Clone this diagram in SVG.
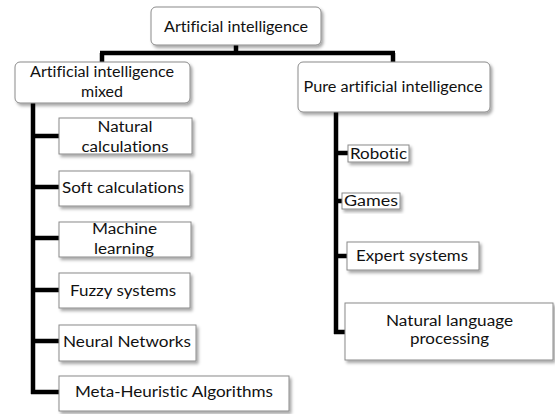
<svg xmlns="http://www.w3.org/2000/svg" width="555" height="414" viewBox="0 0 555 414">
<defs>
<filter id="sh" x="-10%" y="-20%" width="125%" height="150%">
<feDropShadow dx="2" dy="2.5" stdDeviation="1.5" flood-color="#000" flood-opacity="0.35"/>
</filter>
</defs>
<style>
.box{fill:#fff;stroke:#8a8a8a;stroke-width:1;filter:url(#sh)}
.t{font-family:Lato,"Open Sans","Liberation Sans",sans-serif;font-size:15.5px;fill:#111;text-anchor:middle;font-variant-ligatures:none;font-feature-settings:"liga" 0}
.c{fill:none;stroke:#000;stroke-width:4.5;stroke-linejoin:miter;stroke-linecap:butt}
</style>
<rect width="555" height="414" fill="#fff"/>
<g id="connectors">
<path class="c" d="M236,45 V53 M100,53 H395 M102,53 V62 M393,53 V62"/>
<path class="c" d="M33,103 V394"/>
<path class="c" d="M33,136 H59 M33,187 H59 M33,238 H59 M33,290 H59 M33,341 H59 M31,392 H59"/>
<path class="c" d="M336,112 V334"/>
<path class="c" d="M336,153 H348 M336,201 H342 M336,256 H347 M334,332 H345"/>
</g>
<g id="n-ai">
<rect class="box" x="151" y="7" width="170" height="38" rx="5"/>
<text class="t" x="236" y="32" textLength="144" lengthAdjust="spacingAndGlyphs">Artificial intelligence</text>
</g>
<g id="n-mixed">
<rect class="box" x="15" y="62" width="175" height="41" rx="5"/>
<text class="t" x="102" y="77" textLength="144" lengthAdjust="spacingAndGlyphs">Artificial intelligence</text>
<text class="t" x="102" y="97" textLength="42" lengthAdjust="spacingAndGlyphs">mixed</text>
</g>
<g id="n-pure">
<rect class="box" x="298" y="62" width="192" height="50" rx="5"/>
<text class="t" x="393" y="92" textLength="179" lengthAdjust="spacingAndGlyphs">Pure artificial intelligence</text>
</g>
<g id="n-natcalc">
<rect class="box" x="59" y="118" width="133" height="36"/>
<text class="t" x="125" y="132" textLength="55" lengthAdjust="spacingAndGlyphs">Natural</text>
<text class="t" x="125" y="151.5" textLength="87" lengthAdjust="spacingAndGlyphs">calculations</text>
</g>
<g id="n-soft">
<rect class="box" x="59" y="171" width="131" height="35"/>
<text class="t" x="123" y="193" textLength="122" lengthAdjust="spacingAndGlyphs">Soft calculations</text>
</g>
<g id="n-ml">
<rect class="box" x="59" y="222" width="132" height="35"/>
<text class="t" x="124.5" y="234" textLength="65" lengthAdjust="spacingAndGlyphs">Machine</text>
<text class="t" x="124" y="254" textLength="60" lengthAdjust="spacingAndGlyphs">learning</text>
</g>
<g id="n-fuzzy">
<rect class="box" x="59" y="273" width="131" height="35"/>
<text class="t" x="123" y="296" textLength="106" lengthAdjust="spacingAndGlyphs">Fuzzy systems</text>
</g>
<g id="n-nn">
<rect class="box" x="59" y="325" width="137" height="36"/>
<text class="t" x="127" y="347" textLength="128" lengthAdjust="spacingAndGlyphs">Neural Networks</text>
</g>
<g id="n-meta">
<rect class="box" x="59" y="376" width="230" height="35"/>
<text class="t" x="174" y="397" textLength="198" lengthAdjust="spacingAndGlyphs">Meta-Heuristic Algorithms</text>
</g>
<g id="n-robotic">
<rect class="box" x="348" y="145" width="61" height="17"/>
<text class="t" x="378.5" y="158.5" textLength="57" lengthAdjust="spacingAndGlyphs">Robotic</text>
</g>
<g id="n-games">
<rect class="box" x="342" y="193" width="58" height="16"/>
<text class="t" x="371" y="206" textLength="54" lengthAdjust="spacingAndGlyphs">Games</text>
</g>
<g id="n-expert">
<rect class="box" x="347" y="242" width="132" height="28"/>
<text class="t" x="412" y="261" textLength="112" lengthAdjust="spacingAndGlyphs">Expert systems</text>
</g>
<g id="n-nlp">
<rect class="box" x="345" y="303" width="208" height="57"/>
<text class="t" x="449.5" y="326" textLength="127" lengthAdjust="spacingAndGlyphs">Natural language</text>
<text class="t" x="449.5" y="344" textLength="79" lengthAdjust="spacingAndGlyphs">processing</text>
</g>
</svg>
